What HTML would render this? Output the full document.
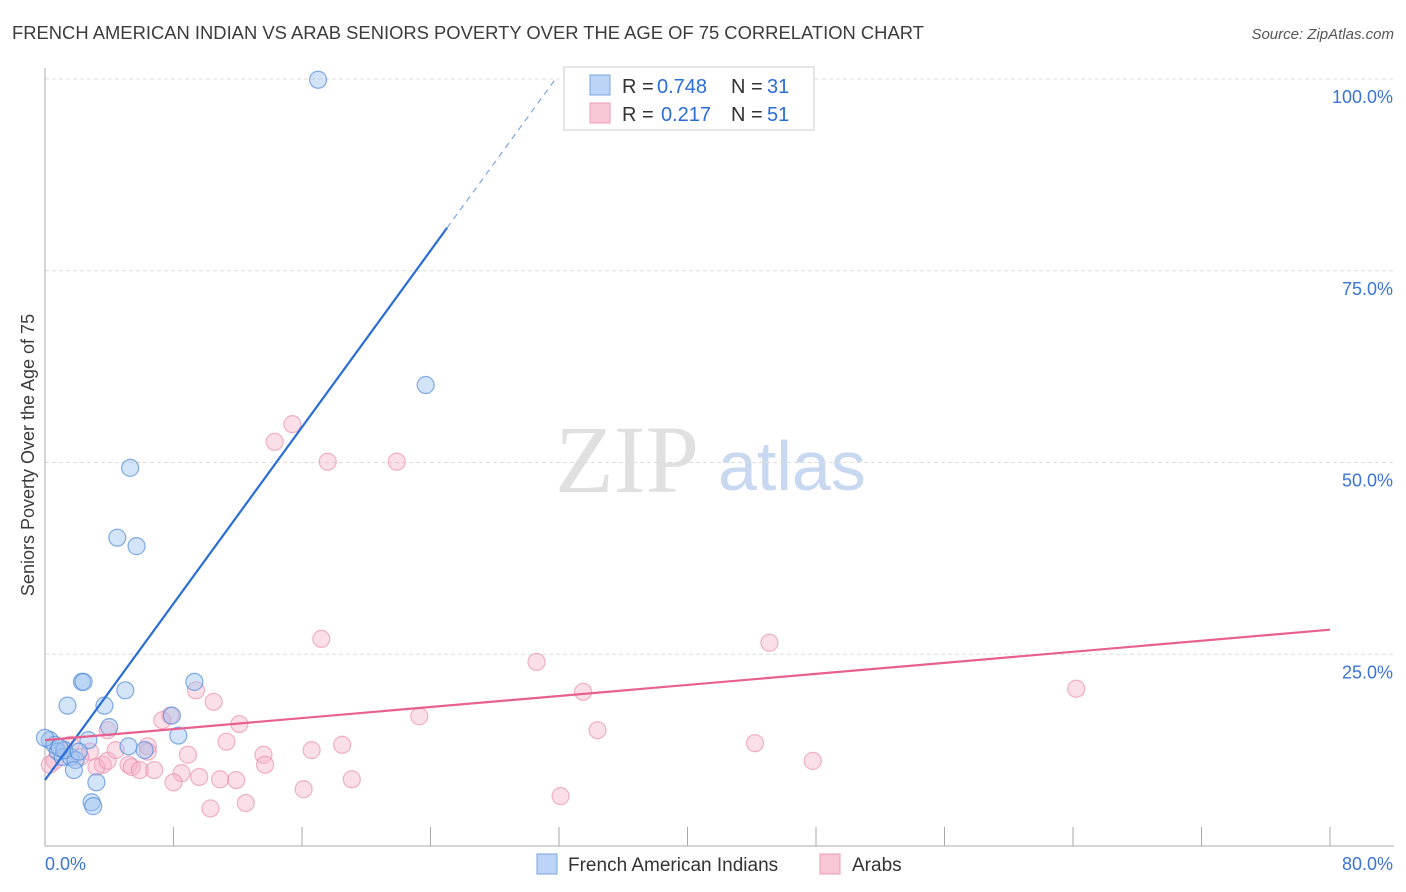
<!DOCTYPE html>
<html><head><meta charset="utf-8"><style>
body{margin:0;background:#fff;font-family:"Liberation Sans",sans-serif;}
svg{display:block}
</style></head><body>
<svg id="c" width="1406" height="892">
<text x="12" y="39" font-size="18.4" fill="#3c3c3c">FRENCH AMERICAN INDIAN VS ARAB SENIORS POVERTY OVER THE AGE OF 75 CORRELATION CHART</text>
<text x="1394" y="39" font-size="15" font-style="italic" fill="#555" text-anchor="end">Source: ZipAtlas.com</text>
<text x="555" y="492" font-size="96" font-family="Liberation Serif,serif" fill="#e0e0e0">ZIP</text>
<text x="718" y="490" font-size="70" fill="#c8d8f0">atlas</text>
<text transform="translate(34,455) rotate(-90)" font-size="18" fill="#3c3c3c" text-anchor="middle">Seniors Poverty Over the Age of 75</text>
<g id="grid"></g><g id="pts"></g><g id="lines"></g>
<g>
<rect x="564" y="67" width="250" height="63" fill="#fff" stroke="#ccc"/>
<rect x="590" y="75" width="20" height="20" fill="#bcd4f5" stroke="#7aa6e0"/>
<rect x="590" y="103" width="20" height="20" fill="#f9c8d6" stroke="#ee9ab5"/>
<text x="622" y="93" font-size="20" fill="#333">R =</text>
<text x="657" y="93" font-size="20" fill="#2a6dd6">0.748</text>
<text x="731" y="93" font-size="20" fill="#333">N =</text>
<text x="767" y="93" font-size="20" fill="#2a6dd6">31</text>
<text x="622" y="121" font-size="20" fill="#333">R =</text>
<text x="661" y="121" font-size="20" fill="#2a6dd6">0.217</text>
<text x="731" y="121" font-size="20" fill="#333">N =</text>
<text x="767" y="121" font-size="20" fill="#2a6dd6">51</text>
</g>
<g>
<rect x="537" y="854" width="20" height="20" fill="#bcd4f5" stroke="#7aa6e0"/>
<text x="568" y="871" font-size="19" fill="#333">French American Indians</text>
<rect x="820" y="854" width="20" height="20" fill="#f9c8d6" stroke="#ee9ab5"/>
<text x="852" y="871" font-size="19" fill="#333">Arabs</text>
</g>
</svg>
<script>
const blueX=[17.0,23.7,5.3,4.5,5.7,2.3,2.4,5.0,9.3,1.4,3.7,4.0,7.9,8.3,2.7,5.2,6.2,0.3,0.6,0.8,1.1,1.6,1.9,1.2,1.8,3.2,2.9,3.0,0.0,2.1,0.9];
const blueY=[99.9,60.1,49.3,40.2,39.1,21.4,21.4,20.3,21.4,18.3,18.3,15.5,17.0,14.4,13.8,13.0,12.5,13.8,13.2,12.3,11.6,11.6,11.2,12.5,9.9,8.3,5.7,5.2,14.1,12.3,12.8];
const pinkX=[15.4,14.3,17.6,21.9,17.2,30.6,45.1,64.2,33.5,9.4,10.5,7.8,7.3,12.1,23.3,34.4,3.9,6.4,11.3,8.9,18.5,16.6,13.6,44.2,47.8,13.7,6.4,5.2,5.4,3.6,3.2,5.9,6.8,8.5,9.6,10.9,11.9,19.1,8.0,16.1,32.1,12.5,10.3,0.6,1.2,1.6,2.8,2.2,3.9,4.4,0.3];
const pinkY=[55.0,52.7,50.1,50.1,27.0,24.0,26.5,20.5,20.1,20.3,18.8,17.0,16.4,15.9,16.9,15.1,15.1,13.0,13.6,11.9,13.2,12.5,11.9,13.4,11.1,10.6,12.3,10.6,10.3,10.6,10.3,9.9,9.9,9.5,9.0,8.7,8.6,8.7,8.3,7.4,6.5,5.6,4.9,11.1,12.5,13.2,12.3,11.6,11.1,12.5,10.6];
const trendBlue=[8.6,2.876];
const trendPink=[13.8,0.18];
const yTicks=[25,50,75,100];
const yTickLabels=["25.0%","50.0%","75.0%","100.0%"];
const xLabels=["0.0%","80.0%"];
const X=v=>45+v*16.0625, Y=v=>846-v*7.67;
const NS="http://www.w3.org/2000/svg";
function mk(t,a,p){const e=document.createElementNS(NS,t);for(const k in a)e.setAttribute(k,a[k]);p.appendChild(e);return e;}
const g=document.getElementById('grid');
yTicks.forEach((t,i)=>{
 const l=mk('line',{x1:45,x2:1394,y1:Y(t),y2:Y(t),stroke:'#ddd','stroke-dasharray':'4,3'},g);
 
 
 const tx=mk('text',{x:1393,y:Y(t)+24,'font-size':18,fill:'#3b74d4','text-anchor':'end'},g);
 tx.textContent=yTickLabels[i];
 
 
});
const ax=mk('line',{x1:45,x2:45,y1:68,y2:846,stroke:'#aaa'},g);


const bx=mk('line',{x1:45,x2:1394,y1:846,y2:846,stroke:'#aaa'},g);


for(let i=1;i<=10;i++){const t=mk('line',{x1:X(i*8),x2:X(i*8),y1:827,y2:846,stroke:'#aaa'},g);
 
 }
[[xLabels[0],45,'start'],[xLabels[1],1393,'end']].forEach(([s,x,a])=>{const t=mk('text',{x:x,y:870,'font-size':18,fill:'#3b74d4','text-anchor':a},g);t.textContent=s;
 
 });
const p=document.getElementById('pts');
pinkX.forEach((x,i)=>{const c=mk('circle',{cx:X(x),cy:Y(pinkY[i]),r:8.5,fill:'rgba(246,175,198,0.4)',stroke:'rgba(232,140,170,0.65)','stroke-width':1.2},p);
 
 });
blueX.forEach((x,i)=>{const c=mk('circle',{cx:X(x),cy:Y(blueY[i]),r:8.5,fill:'rgba(160,196,240,0.45)',stroke:'rgba(80,140,220,0.7)','stroke-width':1.2},p);
 
 });
const L=document.getElementById('lines');
const bEnd=25.03, bDash=31.7;
let l1=mk('line',{x1:X(0),y1:Y(trendBlue[0]),x2:X(bEnd),y2:Y(trendBlue[0]+trendBlue[1]*bEnd),stroke:'#2a6dd6','stroke-width':2.2},L);


let l2=mk('line',{x1:X(bEnd),y1:Y(trendBlue[0]+trendBlue[1]*bEnd),x2:X(bDash),y2:Y(trendBlue[0]+trendBlue[1]*bDash),stroke:'#7aa6e0','stroke-width':1.2,'stroke-dasharray':'6,5'},L);


let l3=mk('line',{x1:X(0),y1:Y(trendPink[0]),x2:X(80),y2:Y(trendPink[0]+trendPink[1]*80),stroke:'#e8608e','stroke-width':2.2},L);


</script>
</body></html>
